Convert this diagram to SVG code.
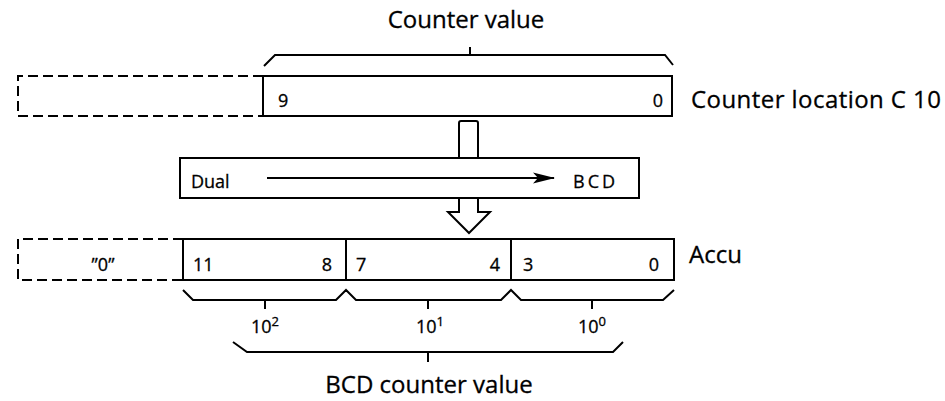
<svg xmlns="http://www.w3.org/2000/svg" width="945" height="401" viewBox="0 0 945 401">
<style>
  .ln { fill: none; stroke: #000; stroke-width: 2; }
  .br { fill: none; stroke: #000; stroke-width: 2; stroke-linejoin: miter; }
  .dash { fill: none; stroke: #000; stroke-width: 2; stroke-dasharray: 10 5; }
  .box { fill: #fff; stroke: #000; stroke-width: 2; }
  .big { font-family: "Open Sans", "Liberation Sans", sans-serif; font-size: 24px; fill: #000; stroke: #000; stroke-width: 0.3; }
  .sm { font-family: "Open Sans", "Liberation Sans", sans-serif; font-size: 18px; fill: #000; stroke: #000; stroke-width: 0.3; }
</style>
<defs>
  <marker id="ah" markerWidth="22" markerHeight="12" refX="21" refY="6" orient="auto" markerUnits="userSpaceOnUse">
    <path d="M0,0.5 L22,6 L0,11.5 L5,6 Z" fill="#000"/>
  </marker>
</defs>

<g id="counter-value-label">
  <path class="br" d="M264,66 L275,55 H665 L673,65"/>
  <path class="br" d="M470,55 V47"/>
  <text class="big" x="466" y="28" text-anchor="middle">Counter value</text>
</g>

<g id="counter-location">
  <path class="dash" d="M263,76 H18 V116 H263"/>
  <rect class="box" x="263" y="76" width="409" height="40"/>
  <text class="sm" x="278" y="107">9</text>
  <text class="sm" x="663" y="107" text-anchor="end">0</text>
  <text class="big" x="691" y="108" textLength="250">Counter location C 10</text>
</g>

<g id="connectors">
  <path class="box" d="M459,159 V123 Q459,121 461,121 H476 Q478,121 478,123 V159"/>
  <path class="box" d="M459,197 V212 H448 L469,233 L490,212 H478 V197"/>
</g>

<g id="dual-bcd">
  <rect class="box" x="180" y="158" width="459" height="40"/>
  <text class="sm" x="191" y="188">Dual</text>
  <line class="ln" x1="267" y1="178" x2="554" y2="178" marker-end="url(#ah)"/>
  <text class="sm" x="573" y="188" letter-spacing="3">BCD</text>
</g>

<g id="accu">
  <path class="dash" d="M183,239 H18 V280 H183"/>
  <rect class="box" x="183" y="239" width="491" height="41"/>
  <line class="ln" x1="346" y1="239" x2="346" y2="280"/>
  <line class="ln" x1="511" y1="239" x2="511" y2="280"/>
  <text class="sm" x="103" y="271" text-anchor="middle">”0”</text>
  <text class="sm" x="193" y="271">11</text>
  <text class="sm" x="332" y="271" text-anchor="end">8</text>
  <text class="sm" x="356" y="271">7</text>
  <text class="sm" x="500" y="271" text-anchor="end">4</text>
  <text class="sm" x="523" y="271">3</text>
  <text class="sm" x="659" y="271" text-anchor="end">0</text>
  <text class="big" x="689" y="263">Accu</text>
</g>

<g id="digit-braces">
  <path class="br" d="M183,290 L193,300 H336 L346,290 L356,300 H501 L511,290 L521,300 H663 L674,290"/>
  <path class="br" d="M265,300 V309 M428,300 V309 M592,300 V309"/>
  <text class="sm" x="265" y="333" text-anchor="middle">10<tspan dy="-7" font-size="13">2</tspan></text>
  <text class="sm" x="430" y="333" text-anchor="middle">10<tspan dy="-7" font-size="13">1</tspan></text>
  <text class="sm" x="592" y="333" text-anchor="middle">10<tspan dy="-7" font-size="13">0</tspan></text>
</g>

<g id="bcd-counter-value">
  <path class="br" d="M233,342 L247,352 H613 L623,342"/>
  <path class="br" d="M428,352 V362"/>
  <text class="big" x="429" y="393" text-anchor="middle">BCD counter value</text>
</g>
</svg>
